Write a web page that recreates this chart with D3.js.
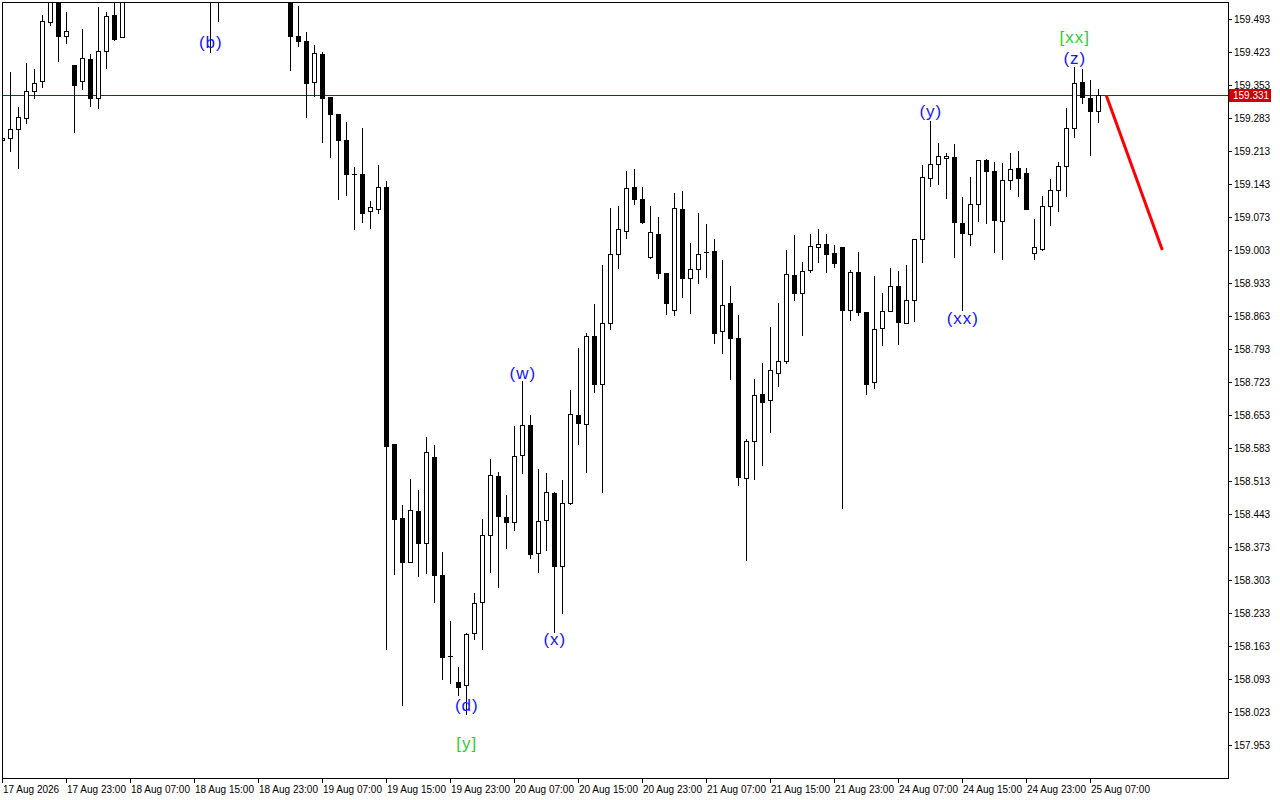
<!DOCTYPE html>
<html><head><meta charset="utf-8">
<script src="https://cdn.jsdelivr.net/npm/d3@7/dist/d3.min.js"></script>
<style>body{margin:0;background:#fff;overflow:hidden}svg{display:block}</style>
</head><body>
<svg id="c" width="1280" height="800"></svg>
<script>
// ---- data (H1 candles, bar 0 = 17 Aug 15:00) ----
const opens = [159.236,159.240,159.259,159.282,159.340,159.361,159.486,159.542,159.456,159.395,
159.361,159.408,159.326,159.425,159.501,159.454,159.555,159.580,159.605,159.595,
159.635,159.620,159.650,159.640,159.610,159.590,159.600,159.575,159.590,159.625,
159.610,159.630,159.655,159.630,159.600,159.580,159.565,159.457,159.446,159.359,
159.419,159.327,159.292,159.236,159.1645,159.164,159.085,159.091,159.136,158.592,
158.435,158.342,158.449,158.382,158.564,158.314,158.141,158.087,158.081,158.191,
158.256,158.398,158.524,158.437,158.425,158.568,158.631,158.360,158.430,158.487,
158.333,158.466,158.652,158.633,158.820,158.718,158.848,158.994,159.043,159.136,
159.111,158.988,159.038,158.954,158.875,159.089,158.943,158.962,158.9985,159.001,
158.831,158.890,158.816,158.519,158.597,158.698,158.684,158.742,158.767,158.949,
158.911,158.960,159.009,159.015,158.996,159.009,158.875,158.957,158.872,158.722,
158.837,158.873,158.926,158.849,158.898,159.026,159.155,159.185,159.198,159.200,
159.060,159.038,159.100,159.195,159.171,159.065,159.151,159.177,159.166,158.996,
159.005,159.096,159.130,159.181,159.261,159.359,159.325,159.297];
const highs = [159.249,159.381,159.306,159.400,159.388,159.502,159.559,159.550,159.508,159.396,
159.472,159.418,159.519,159.508,159.544,159.565,159.590,159.620,159.640,159.650,
159.665,159.660,159.690,159.675,159.640,159.625,159.630,159.610,159.640,159.660,
159.645,159.670,159.680,159.650,159.625,159.610,159.590,159.521,159.465,159.438,
159.422,159.327,159.292,159.275,159.180,159.262,159.106,159.183,159.149,158.592,
158.463,158.517,158.494,158.607,158.590,158.363,158.217,158.119,158.191,158.276,
158.433,158.560,158.532,158.483,158.630,158.726,158.652,158.539,158.530,158.489,
158.515,158.706,158.795,158.828,158.889,158.971,159.092,159.096,159.171,159.175,
159.136,159.096,159.072,158.954,159.123,159.128,159.017,159.081,159.058,159.026,
158.982,158.927,158.865,158.602,158.729,158.763,158.839,158.890,159.002,159.034,
158.977,159.038,159.047,159.036,159.013,159.009,158.960,158.998,158.872,158.948,
158.912,158.965,158.959,158.971,159.026,159.183,159.277,159.229,159.208,159.227,
159.115,159.157,159.195,159.197,159.190,159.188,159.208,159.213,159.177,159.069,
159.118,159.153,159.189,159.304,159.392,159.388,159.364,159.345];
const lows = [159.230,159.214,159.176,159.273,159.326,159.349,159.481,159.405,159.443,159.254,
159.345,159.309,159.305,159.390,159.449,159.454,159.540,159.565,159.585,159.590,
159.610,159.600,159.630,159.600,159.575,159.560,159.424,159.489,159.570,159.600,
159.585,159.615,159.620,159.590,159.565,159.550,159.385,159.436,159.286,159.330,
159.233,159.201,159.112,159.120,159.048,159.063,159.050,159.081,158.156,158.315,
158.037,158.341,158.312,158.318,158.257,158.092,158.085,158.060,158.019,158.177,
158.156,158.321,158.289,158.370,158.409,158.529,158.350,158.319,158.367,158.193,
158.232,158.465,158.591,158.533,158.702,158.490,158.835,158.964,159.029,159.100,
159.061,158.987,158.943,158.867,158.865,158.903,158.869,158.932,158.946,158.806,
158.785,158.729,158.505,158.345,158.518,158.548,158.618,158.715,158.763,158.896,
158.823,158.957,158.978,158.956,158.966,158.455,158.854,158.866,158.698,158.711,
158.802,158.873,158.804,158.848,158.853,158.978,159.139,159.144,159.114,158.989,
158.876,159.013,159.065,159.060,158.998,158.984,159.132,159.118,159.090,158.984,
159.002,159.055,159.086,159.118,159.243,159.314,159.205,159.275];
const closes = [159.241,159.259,159.285,159.340,159.357,159.488,159.546,159.458,159.467,159.352,
159.410,159.326,159.425,159.499,159.451,159.555,159.580,159.605,159.595,159.635,
159.620,159.650,159.640,159.610,159.590,159.600,159.575,159.590,159.625,159.610,
159.630,159.655,159.630,159.600,159.580,159.565,159.456,159.447,159.358,159.420,
159.326,159.292,159.237,159.165,159.164,159.082,159.094,159.136,158.588,158.433,
158.342,158.452,158.381,158.575,158.314,158.140,158.1415,158.077,158.189,158.254,
158.398,158.525,158.438,158.427,158.565,158.631,158.359,158.428,158.489,158.333,
158.466,158.655,158.635,158.820,158.719,158.848,158.994,159.047,159.134,159.111,
159.062,159.041,158.954,158.890,159.092,158.943,158.962,158.994,158.999,158.828,
158.886,158.816,158.522,158.597,158.695,158.681,158.748,158.767,158.952,158.911,
158.958,159.011,159.015,158.994,158.975,158.876,158.957,158.872,158.719,158.835,
158.874,158.926,158.851,158.898,159.026,159.157,159.186,159.202,159.202,159.062,
159.040,159.100,159.193,159.170,159.067,159.152,159.174,159.156,159.091,159.009,
159.096,159.130,159.181,159.261,159.357,159.327,159.297,159.331];

const timeLabels = ["17 Aug 2026","17 Aug 23:00","18 Aug 07:00","18 Aug 15:00","18 Aug 23:00",
"19 Aug 07:00","19 Aug 15:00","19 Aug 23:00","20 Aug 07:00","20 Aug 15:00","20 Aug 23:00",
"21 Aug 07:00","21 Aug 15:00","21 Aug 23:00","24 Aug 07:00","24 Aug 15:00","24 Aug 23:00","25 Aug 07:00"];
const timeLabelBars = [0,8,16,24,32,40,48,56,64,72,80,88,96,104,112,120,128,136];
const priceTicks = [157.953,158.023,158.093,158.163,158.233,158.303,158.373,158.443,158.513,158.583,
158.653,158.723,158.793,158.863,158.933,159.003,159.073,159.143,159.213,159.283,159.353,159.423,159.493];

const waveTexts  = ["(b)","(d)","[y]","(w)","(x)","(y)","(xx)","(z)","[xx]"];
const waveBars   = [26,58,58,65,69,116,120,134,134];
const wavePrices = [159.444,158.036,157.957,158.742,158.176,159.296,158.857,159.410,159.453];
const waveColors = ["#1515ff","#1515ff","#33cc33","#1515ff","#1515ff","#1515ff","#1515ff","#1515ff","#33cc33"];

const bidPrice = 159.331;
const projBars = [138,145];
const projPrices = [159.331,159.003];

// ---- layout ----
const L = 2, R = 1228, T = 2, B = 778;
const svg = d3.select("#c");
const font = "'Liberation Sans', Arial, sans-serif";

const x = d3.scaleLinear().domain([-0.29, 153.21]).range([0, R]);
const y = d3.scaleLinear().domain([157.883, 159.5291]).range([B, T]);

svg.append("defs").append("clipPath").attr("id","plot")
  .append("rect").attr("x",L).attr("y",T).attr("width",R-L).attr("height",B-T);

const g = svg.append("g").attr("clip-path","url(#plot)").attr("shape-rendering","crispEdges");

const data = opens.map((o,i)=>({i,o,h:highs[i],l:lows[i],c:closes[i]}));
const px = v => Math.round(v)+0.5;

// bid line
g.append("line").attr("x1",L).attr("x2",R)
  .attr("y1",px(y(bidPrice)-0.5)).attr("y2",px(y(bidPrice)-0.5))
  .attr("stroke","#6e1818").attr("stroke-width",1);

const cg = g.selectAll("g.candle").data(data).join("g").attr("class","candle");
cg.append("line")
  .attr("x1",d=>px(x(d.i))).attr("x2",d=>px(x(d.i)))
  .attr("y1",d=>Math.round(y(d.h))).attr("y2",d=>Math.round(y(d.l))+1)
  .attr("stroke","#000").attr("stroke-width",1);
cg.each(function(d){
  const sel = d3.select(this);
  const top = Math.round(y(Math.max(d.o,d.c)));
  const bot = Math.round(y(Math.min(d.o,d.c)));
  const cx = px(x(d.i));
  if (bot - top < 1) {
    sel.append("line").attr("x1",cx-2.5).attr("x2",cx+2.5)
      .attr("y1",top+0.5).attr("y2",top+0.5).attr("stroke","#000");
  } else {
    sel.append("rect").attr("x",cx-2).attr("width",4)
      .attr("y",top+0.5).attr("height",bot-top)
      .attr("fill", d.c >= d.o ? "#fff" : "#000")
      .attr("stroke","#000").attr("stroke-width",1);
  }
});

// projection line
g.append("line")
  .attr("x1",x(projBars[0])).attr("y1",y(projPrices[0]))
  .attr("x2",x(projBars[1])).attr("y2",y(projPrices[1]))
  .attr("stroke","#ff0000").attr("stroke-width",3).attr("shape-rendering","auto");

// wave labels
svg.append("g").selectAll("text").data(waveTexts).join("text")
  .attr("x",(d,k)=>x(waveBars[k])+0.5).attr("y",(d,k)=>y(wavePrices[k]))
  .attr("text-anchor","middle").attr("dominant-baseline","central")
  .attr("font-family",font).attr("font-size",17).attr("letter-spacing",1)
  .attr("fill",(d,k)=>waveColors[k]).text(d=>d);

// frame
const fr = svg.append("g").attr("shape-rendering","crispEdges");
fr.append("rect").attr("x",L+0.5).attr("y",T+0.5).attr("width",R-L).attr("height",B-T)
  .attr("fill","none").attr("stroke","#000");

// price axis
const ya = svg.append("g");
ya.selectAll("line").data(priceTicks).join("line")
  .attr("x1",R).attr("x2",R+4)
  .attr("y1",d=>px(y(d))).attr("y2",d=>px(y(d)))
  .attr("stroke","#000").attr("shape-rendering","crispEdges");
ya.selectAll("text").data(priceTicks).join("text")
  .attr("x",R+6).attr("y",d=>y(d)+3.5)
  .attr("font-family",font).attr("font-size",10).attr("fill","#000")
  .text(d=>d3.format(".3f")(d));

// bid price label
const by = y(bidPrice);
svg.append("rect").attr("x",R+1).attr("y",Math.round(by)-6).attr("width",42).attr("height",13)
  .attr("fill","#cc0000");
svg.append("text").attr("x",R+5).attr("y",by+4)
  .attr("font-family",font).attr("font-size",10).attr("fill","#fff")
  .text(d3.format(".3f")(bidPrice));

// time axis
const xa = svg.append("g");
xa.selectAll("line").data(timeLabelBars).join("line")
  .attr("x1",d=>px(x(d))).attr("x2",d=>px(x(d)))
  .attr("y1",B).attr("y2",B+5).attr("stroke","#000").attr("shape-rendering","crispEdges");
xa.selectAll("text").data(timeLabels).join("text")
  .attr("x",(d,k)=>Math.round(x(timeLabelBars[k]))+1).attr("y",B+15)
  .attr("font-family",font).attr("font-size",10).attr("fill","#000")
  .text(d=>d);
</script>
</body></html>
